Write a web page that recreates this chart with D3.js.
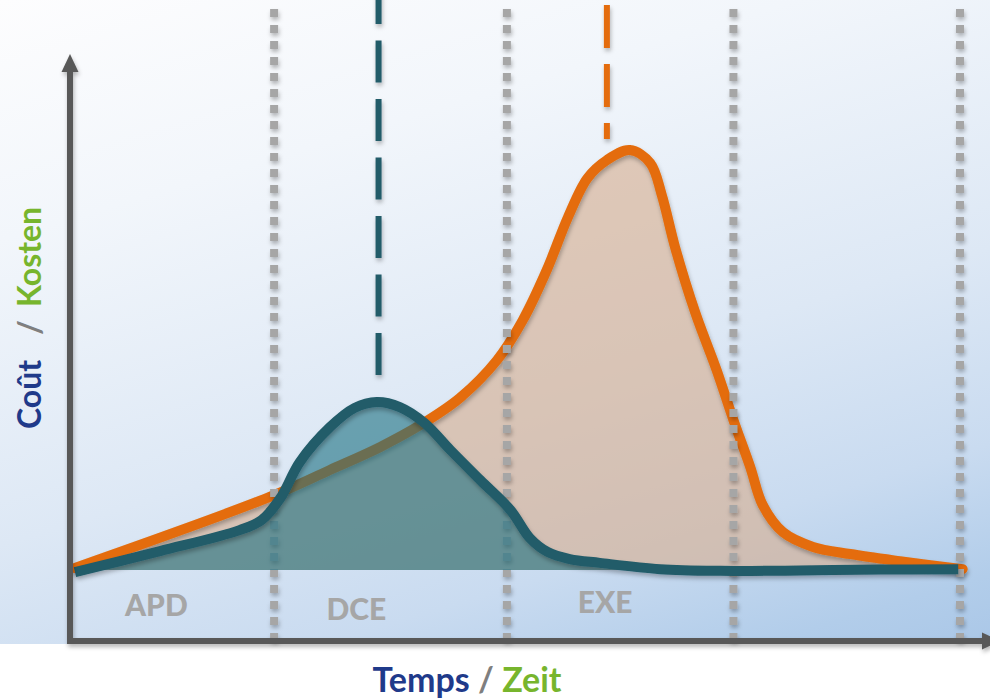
<!DOCTYPE html>
<html>
<head>
<meta charset="utf-8">
<script src="https://cdn.jsdelivr.net/npm/d3@7"></script>
<style>
  html, body { margin: 0; padding: 0; background: #ffffff; }
  svg { display: block; }
</style>
</head>
<body>
<svg id="chart" width="990" height="698"></svg>
<script>
// ---- Data (conceptual: time 0..100, cost 0..100) ----
const phaseBoundaries = [22.5, 48.8, 74.4, 100];
const phaseLabels = ["APD", "DCE", "EXE"];
const phaseLabelX = [9.2, 31.8, 59.9];
const milestoneTeal = 34.3;
const milestoneOrange = 60.1;

// Orange curve
const orangeX = [0, 22.0, 28.8, 34.5, 39.0, 43.5, 47.7, 50.6, 53.3, 55.7, 57.9, 60.1, 62.7, 65.0, 66.3, 67.8, 70.1, 72.5, 74.4, 76.3, 77.7, 80.0, 83.4, 87.6, 93.2, 100.3];
const orangeY = [0.5, 17.4, 23.8, 29.3, 34.5, 41.0, 50.0, 59.5, 71.4, 84.0, 93.3, 97.6, 100, 96.9, 89.3, 76.9, 61.2, 47.6, 35.7, 24.5, 15.5, 9.0, 5.5, 3.8, 2.1, 0.2];

// Teal curve
const tealX = [0, 9.6, 18.6, 21.1, 23.2, 25.4, 28.8, 31.6, 34.1, 36.7, 39.5, 42.4, 45.8, 49.2, 51.4, 53.4, 55.9, 59.3, 66.1, 72.9, 81.9, 91.0, 99.8];
const tealY = [-0.5, 4.5, 9.5, 11.9, 17.1, 25.7, 34.0, 38.6, 40.0, 38.8, 35.0, 28.6, 21.4, 14.3, 7.6, 4.3, 2.6, 1.7, 0.2, -0.2, -0.1, 0.1, 0.2];

// ---- Layout ----
const svg = d3.select("#chart");
const W = 990, H = 698;
const x = d3.scaleLinear().domain([0, 100]).range([75, 960]);
const y = d3.scaleLinear().domain([0, 100]).range([570, 150]);
const axisX = 70, axisY = 641;

const defs = svg.append("defs");
const grad = defs.append("linearGradient").attr("id", "bg")
  .attr("gradientUnits", "userSpaceOnUse")
  .attr("x1", 0).attr("y1", 0).attr("x2", 300).attr("y2", 1000);
[[0, "#fdfdfe"], [0.22, "#f2f6fb"], [0.5, "#dde8f5"], [0.68, "#c9dbf0"], [0.8, "#b2cdea"], [0.9, "#a6c4e6"]]
  .forEach(([o, c]) => grad.append("stop").attr("offset", o).attr("stop-color", c));

const sh = defs.append("filter").attr("id", "shadow")
  .attr("filterUnits", "userSpaceOnUse")
  .attr("x", -50).attr("y", -50).attr("width", W + 100).attr("height", H + 100);
sh.append("feDropShadow").attr("dx", 1).attr("dy", 3).attr("stdDeviation", 2)
  .attr("flood-color", "#000").attr("flood-opacity", 0.28);

svg.append("rect").attr("x", 0).attr("y", 0).attr("width", W).attr("height", 644).attr("fill", "url(#bg)");

const orangeData = orangeX.map((v, i) => [v, orangeY[i]]);
const tealData = tealX.map((v, i) => [v, tealY[i]]);

const curve = d3.curveCatmullRom.alpha(0.5);
const area = d3.area().x(d => x(d[0])).y0(y(0)).y1(d => y(d[1])).curve(curve);
const line = d3.line().x(d => x(d[0])).y(d => y(d[1])).curve(curve);

// Orange fill + line
svg.append("path").datum(orangeData).attr("d", area)
  .attr("fill", "#d6ae90").attr("fill-opacity", 0.62);
svg.append("path").datum(orangeData).attr("d", line)
  .attr("fill", "none").attr("stroke", "#e46c0a").attr("stroke-width", 10)
  .attr("stroke-linecap", "round").attr("stroke-linejoin", "round")
  .attr("filter", "url(#shadow)");

// Phase dotted lines
svg.append("g").attr("filter", "url(#shadow)")
  .selectAll("line").data(phaseBoundaries).join("line")
  .attr("x1", d => x(d)).attr("x2", d => x(d))
  .attr("y1", 9).attr("y2", 645)
  .attr("stroke", "#a6a6a6").attr("stroke-width", 8)
  .attr("stroke-dasharray", "8,8");

// Teal fill + line
svg.append("path").datum(tealData).attr("d", area)
  .attr("fill", "#1a6f80").attr("fill-opacity", 0.6);
svg.append("path").datum(tealData).attr("d", line)
  .attr("fill", "none").attr("stroke", "#215b69").attr("stroke-width", 10)
  .attr("stroke-linecap", "butt").attr("stroke-linejoin", "round")
  .attr("filter", "url(#shadow)");

// Milestone dashed lines
const ms = svg.append("g").attr("filter", "url(#shadow)");
ms.append("line")
  .attr("x1", x(milestoneTeal)).attr("x2", x(milestoneTeal))
  .attr("y1", 375).attr("y2", -20)
  .attr("stroke", "#215b69").attr("stroke-width", 6)
  .attr("stroke-dasharray", "42,16.5");
ms.append("line")
  .attr("x1", x(milestoneOrange)).attr("x2", x(milestoneOrange))
  .attr("y1", 0).attr("y2", 139)
  .attr("stroke", "#e46c0a").attr("stroke-width", 6)
  .attr("stroke-dasharray", "43,16")
  .attr("stroke-dashoffset", 54);

// Axes
const ax = svg.append("g").attr("filter", "url(#shadow)").attr("fill", "#595959");
ax.append("line").attr("x1", axisX).attr("x2", axisX).attr("y1", 644).attr("y2", 70)
  .attr("stroke", "#595959").attr("stroke-width", 6);
ax.append("path").attr("d", `M${axisX},54 L${axisX + 8.5},72 L${axisX - 8.5},72 Z`);
ax.append("line").attr("x1", 67).attr("x2", 984).attr("y1", axisY).attr("y2", axisY)
  .attr("stroke", "#595959").attr("stroke-width", 6);
ax.append("path").attr("d", `M1000,${axisY} L982,${axisY - 8.5} L982,${axisY + 8.5} Z`);

// Phase labels
const labelY = [616, 620, 613];
svg.append("g").selectAll("text").data(phaseLabels).join("text")
  .attr("x", (d, i) => x(phaseLabelX[i]))
  .attr("y", (d, i) => labelY[i])
  .attr("text-anchor", "middle")
  .attr("font-family", "Lato, 'Open Sans', sans-serif")
  .attr("font-weight", 900).attr("font-size", 30)
  .attr("fill", "#a6a6a6")
  .text(d => d);

// X axis title
const xt = svg.append("text").attr("x", 467).attr("y", 692)
  .attr("text-anchor", "middle")
  .attr("font-family", "Lato, 'Open Sans', sans-serif")
  .attr("font-weight", 700).attr("font-size", 34);
xt.append("tspan").attr("fill", "#1f3a8a").text("Temps");
xt.append("tspan").attr("fill", "#7f7f7f").text(" / ");
xt.append("tspan").attr("fill", "#77b52d").text("Zeit");

// Y axis title (rotated)
const yt = svg.append("g").attr("transform", "rotate(-90)")
  .attr("font-family", "Lato, 'Open Sans', sans-serif")
  .attr("font-weight", 700).attr("font-size", 32);
yt.append("text").attr("x", -429).attr("y", 41).attr("fill", "#1f3a8a").text("Coût");
yt.append("text").attr("x", -335).attr("y", 41).attr("fill", "#7f7f7f").text("/");
yt.append("text").attr("x", -307).attr("y", 41).attr("fill", "#77b52d").text("Kosten");
</script>
</body>
</html>
